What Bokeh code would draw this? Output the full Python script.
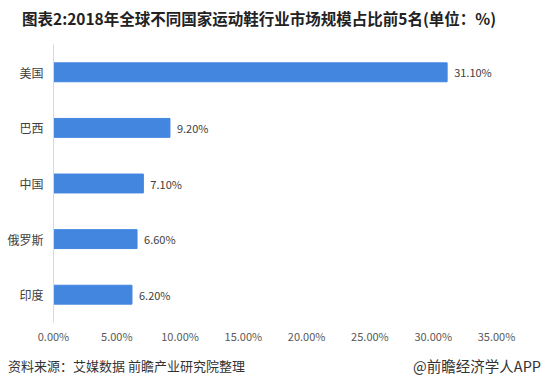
from bokeh.plotting import figure
from bokeh.models import ColumnDataSource, FixedTicker, Range1d, FactorRange, Div
from bokeh.layouts import column, row
from bokeh.embed import file_html
from bokeh.resources import INLINE
from bokeh.core.properties import value

countries = ["美国", "巴西", "中国", "俄罗斯", "印度"]
shares = [31.10, 9.20, 7.10, 6.60, 6.20]
share_labels = ["31.10%", "9.20%", "7.10%", "6.60%", "6.20%"]
tick_values = [0, 5, 10, 15, 20, 25, 30, 35]
tick_labels = ["0.00%", "5.00%", "10.00%", "15.00%", "20.00%", "25.00%", "30.00%", "35.00%"]

FONT = "Noto Sans CJK SC"

src = ColumnDataSource(dict(country=countries, share=shares, label=share_labels))

title = Div(text="图表2:2018年全球不同国家运动鞋行业市场规模占比前5名(单位：%)",
            width=525, height=36, margin=(0, 0, 0, 22),
            styles={"font-family": FONT, "font-size": "15.5px", "font-weight": "bold",
                    "color": "#222222", "line-height": "36px", "white-space": "nowrap"})

p = figure(width=547, height=319, output_backend="svg", toolbar_location=None,
           y_range=FactorRange(*reversed(countries)), x_range=Range1d(0, 35),
           min_border_left=53, min_border_right=51, min_border_top=8, min_border_bottom=33)

p.hbar(y="country", right="share", left=0, height=0.34, source=src, color="#4286E0")
p.text(x="share", y="country", text="label", source=src, x_offset=7,
       text_baseline="middle", text_align="left", text_font=value(FONT),
       text_font_size="11px", text_color="#404040")

p.outline_line_color = None
p.grid.grid_line_color = None

p.xaxis.ticker = FixedTicker(ticks=tick_values)
p.xaxis.major_label_overrides = {v: l for v, l in zip(tick_values, tick_labels)}
p.xaxis.axis_line_color = None
p.xaxis.major_tick_line_color = None
p.xaxis.minor_tick_line_color = None
p.xaxis.major_tick_out = 0
p.xaxis.major_label_text_font = FONT
p.xaxis.major_label_text_font_size = "11px"
p.xaxis.major_label_text_color = "#595959"
p.xaxis.major_label_standoff = 5

p.yaxis.axis_line_color = "#d9d9d9"
p.yaxis.major_tick_line_color = None
p.yaxis.minor_tick_line_color = None
p.yaxis.major_tick_out = 0
p.yaxis.major_label_text_font = FONT
p.yaxis.major_label_text_font_size = "12px"
p.yaxis.major_label_text_color = "#404040"
p.yaxis.major_label_standoff = 10

src_note = Div(text="资料来源：艾媒数据 前瞻产业研究院整理", width=300, height=32,
               margin=(0, 0, 0, 8),
               styles={"font-family": FONT, "font-size": "13px", "color": "#333333",
                       "line-height": "22px", "white-space": "nowrap"})
app_note = Div(text="@前瞻经济学人APP", width=233, height=32, margin=(0, 6, 0, 0),
               styles={"font-family": FONT, "font-size": "14.5px", "color": "#333333",
                       "line-height": "22px", "text-align": "right", "white-space": "nowrap"})

layout = column(title, p, row(src_note, app_note, spacing=0), spacing=0)

open("out.html", "w").write(file_html(layout, INLINE))
